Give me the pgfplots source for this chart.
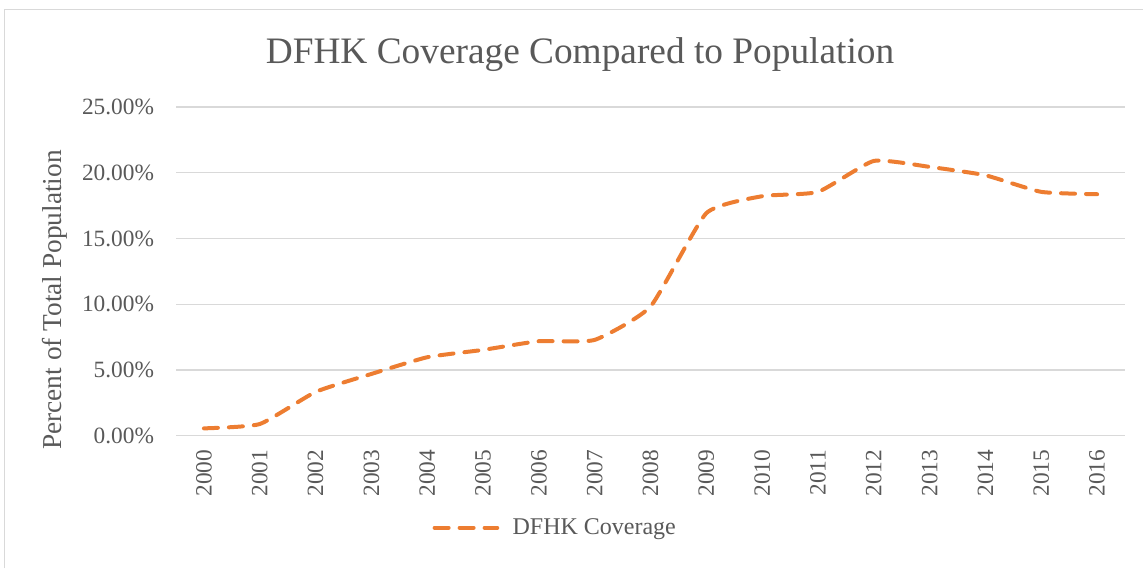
\documentclass[border=0pt]{standalone}
\usepackage{pgfplots}
\pgfplotsset{compat=1.18}
\usepackage{fontspec}
\setmainfont{Liberation Serif}
\definecolor{txtgray}{HTML}{595959}
\definecolor{gridgray}{HTML}{D9D9D9}
\definecolor{lineorange}{HTML}{ED7D31}
\definecolor{framegray}{HTML}{D9D9D9}

\pgfplotstableread{
idx year cov
0  2000 0.56
1  2001 0.89
2  2002 3.33
3  2003 4.70
4  2004 5.97
5  2005 6.53
6  2006 7.19
7  2007 7.29
8  2008 9.83
9  2009 16.93
10 2010 18.22
11 2011 18.55
12 2012 20.90
13 2013 20.45
14 2014 19.81
15 2015 18.55
16 2016 18.37
}\coverage

\begin{document}
\begin{tikzpicture}[x=0.75pt,y=0.75pt]
% canvas: 1143 x 568 px, origin bottom-left
\useasboundingbox (0,0) rectangle (1143,568);
\draw[framegray, line width=0.75pt] (4,0) -- (4,558) -- (1143,558);
\node[txtgray, font=\fontsize{28}{32}\selectfont] at (580,513) {DFHK Coverage Compared to Population};
\node[txtgray, rotate=90, font=\fontsize{20.5}{24}\selectfont] at (55,268) {Percent of Total Population};
\begin{axis}[
  at={(132pt,99.2pt)}, anchor=south west,
  scale only axis,
  width=711.75pt, height=246.5pt,
  xmin=-0.5, xmax=16.5,
  ymin=0, ymax=25,
  xtick=data,
  xticklabels={2000,2001,2002,2003,2004,2005,2006,2007,2008,2009,2010,2011,2012,2013,2014,2015,2016},
  x tick label style={rotate=90, anchor=east, xshift=-7pt, font=\fontsize{17.5}{20}\selectfont, text=txtgray},
  ytick={0,5,10,15,20,25},
  yticklabel={\pgfmathprintnumber[fixed,fixed zerofill,precision=2]{\tick}\%},
  y tick label style={xshift=-13pt, font=\fontsize{17.5}{20}\selectfont, text=txtgray},
  /pgf/number format/assume math mode=true,
  ymajorgrids,
  grid style={gridgray, line width=1pt},
  axis line style={draw=none},
  major tick length=0pt,
  legend style={at={(0.40,-0.28)}, anchor=center, draw=none, fill=none,
    font=\fontsize{18}{20}\selectfont, text=txtgray},
  legend cell align=left,
  legend image code/.code={\draw[#1] (0pt,0pt) -- (47pt,0pt); \path (55pt,0pt);},
]
\addplot[lineorange, line width=3pt, line cap=round,
  dash pattern=on 10.5pt off 8.25pt, smooth, tension=0.3]
  table[x=idx, y=cov] {\coverage};
\addlegendentry{DFHK Coverage}
\end{axis}
\end{tikzpicture}
\end{document}
